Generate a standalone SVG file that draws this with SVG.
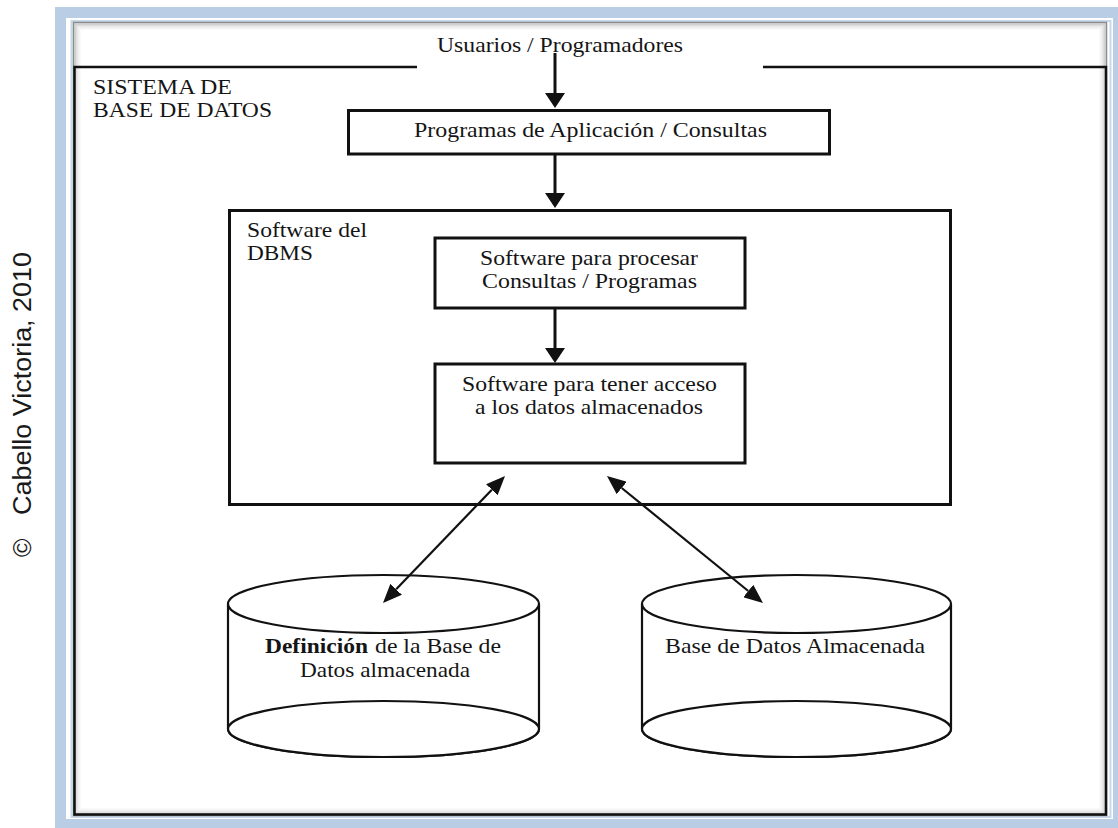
<svg xmlns="http://www.w3.org/2000/svg" width="1118" height="828" viewBox="0 0 1118 828">
  <style>
    .box { fill: #ffffff; stroke: #111111; stroke-width: 3; }
    .sys { fill: none; stroke: #111111; stroke-width: 2.5; }
    .cyl { fill: #ffffff; stroke: #111111; stroke-width: 2.2; }
    .lbl { font-family: "Liberation Serif", "Times New Roman", serif; font-size: 21px; fill: #151515; }
    .b { font-weight: bold; }
    .conn { stroke: #111111; fill: none; }
    .side { font-family: "Liberation Sans", Arial, sans-serif; font-size: 25px; fill: #1a1a1a; }
  </style>
  <defs>
    <marker id="headV" viewBox="0 0 15 20" refX="0" refY="10" markerWidth="15" markerHeight="20" markerUnits="userSpaceOnUse" orient="auto">
      <path d="M0,0 L15,10 L0,20 z" fill="#111111"/>
    </marker>
    <marker id="headD" viewBox="0 0 19 16" refX="0" refY="8" markerWidth="19" markerHeight="16" markerUnits="userSpaceOnUse" orient="auto-start-reverse">
      <path d="M0,0 L19,8 L0,16 z" fill="#111111"/>
    </marker>
  </defs>

  <rect width="1118" height="828" fill="#ffffff"/>

  <!-- page frame: blue band, thin inner rule, shaded panel -->
  <g id="frame">
    <rect x="60.5" y="12.5" width="1058" height="812" fill="none" stroke="#b9cde5" stroke-width="11"/>
    <rect x="71.5" y="21" width="1039" height="796" fill="none" stroke="#c8d7ea" stroke-width="2"/>
    <rect x="73.5" y="22.5" width="1033" height="793" fill="none" stroke="#8a8a8a" stroke-width="1.5"/>
    <rect x="75.5" y="24.5" width="1029" height="789" fill="none" stroke="#000" stroke-opacity="0.18" stroke-width="2"/>
    <rect x="77.5" y="26.5" width="1025" height="785" fill="none" stroke="#000" stroke-opacity="0.09" stroke-width="2"/>
    <rect x="79.5" y="28.5" width="1021" height="781" fill="none" stroke="#000" stroke-opacity="0.04" stroke-width="2"/>
  </g>

  <!-- side credit -->
  <g id="credit">
    <text class="side" transform="translate(31,557) rotate(-90)">©</text>
    <text class="side" transform="translate(31,515) rotate(-90)" textLength="263" lengthAdjust="spacingAndGlyphs">Cabello Victoria, 2010</text>
  </g>

  <!-- database system enclosure -->
  <g id="sistema">
    <path class="sys" d="M417,67 H74.5 V814.5 H1106 V67 H763"/>
    <text class="lbl" x="93" y="94" textLength="139" lengthAdjust="spacingAndGlyphs">SISTEMA DE</text>
    <text class="lbl" x="93" y="117" textLength="179" lengthAdjust="spacingAndGlyphs">BASE DE DATOS</text>
  </g>

  <g id="usuarios">
    <text class="lbl" x="437" y="52" textLength="246" lengthAdjust="spacingAndGlyphs">Usuarios / Programadores</text>
  </g>

  <g id="programas">
    <rect class="box" x="348.5" y="110.5" width="481" height="43.5"/>
    <text class="lbl" x="414" y="137" textLength="353" lengthAdjust="spacingAndGlyphs">Programas de Aplicación / Consultas</text>
  </g>

  <g id="dbms">
    <rect class="box" x="229.5" y="210.5" width="721" height="294"/>
    <text class="lbl" x="247" y="237" textLength="120" lengthAdjust="spacingAndGlyphs">Software del</text>
    <text class="lbl" x="247" y="260" textLength="66" lengthAdjust="spacingAndGlyphs">DBMS</text>
  </g>

  <g id="procesar">
    <rect class="box" x="435" y="238" width="310" height="70"/>
    <text class="lbl" x="480" y="265" textLength="218" lengthAdjust="spacingAndGlyphs">Software para procesar</text>
    <text class="lbl" x="482" y="288" textLength="215" lengthAdjust="spacingAndGlyphs">Consultas / Programas</text>
  </g>

  <g id="acceso">
    <rect class="box" x="435" y="364" width="310" height="99"/>
    <text class="lbl" x="462" y="391" textLength="255" lengthAdjust="spacingAndGlyphs">Software para tener acceso</text>
    <text class="lbl" x="475" y="414" textLength="228" lengthAdjust="spacingAndGlyphs">a los datos almacenados</text>
  </g>

  <g id="definicion">
    <path class="cyl" d="M228,604 V729 A155.5,28 0 0 0 539,729 V604"/>
    <ellipse class="cyl" cx="383.5" cy="729" rx="155.5" ry="28"/>
    <ellipse class="cyl" cx="383.5" cy="604" rx="155.5" ry="29"/>
    <text class="lbl b" x="265" y="653" textLength="103" lengthAdjust="spacingAndGlyphs">Definición</text>
    <text class="lbl" x="375" y="653" textLength="126" lengthAdjust="spacingAndGlyphs">de la Base de</text>
    <text class="lbl" x="300" y="677" textLength="170" lengthAdjust="spacingAndGlyphs">Datos almacenada</text>
  </g>

  <g id="almacenada">
    <path class="cyl" d="M642,604 V729 A154.5,28 0 0 0 951,729 V604"/>
    <ellipse class="cyl" cx="796.5" cy="729" rx="154.5" ry="28"/>
    <ellipse class="cyl" cx="796.5" cy="604" rx="154.5" ry="29"/>
    <text class="lbl" x="665" y="653" textLength="260" lengthAdjust="spacingAndGlyphs">Base de Datos Almacenada</text>
  </g>

  <!-- connectors -->
  <g id="connectors">
    <line class="conn" x1="555" y1="53" x2="555" y2="93" stroke-width="3" marker-end="url(#headV)"/>
    <line class="conn" x1="555" y1="155" x2="555" y2="193" stroke-width="3" marker-end="url(#headV)"/>
    <line class="conn" x1="555" y1="309" x2="555" y2="348" stroke-width="3" marker-end="url(#headV)"/>
    <line class="conn" x1="491.84" y1="489.70" x2="396.16" y2="589.30" stroke-width="2.2" marker-start="url(#headD)" marker-end="url(#headD)"/>
    <line class="conn" x1="621.73" y1="487.99" x2="748.27" y2="591.01" stroke-width="2.2" marker-start="url(#headD)" marker-end="url(#headD)"/>
  </g>
</svg>
